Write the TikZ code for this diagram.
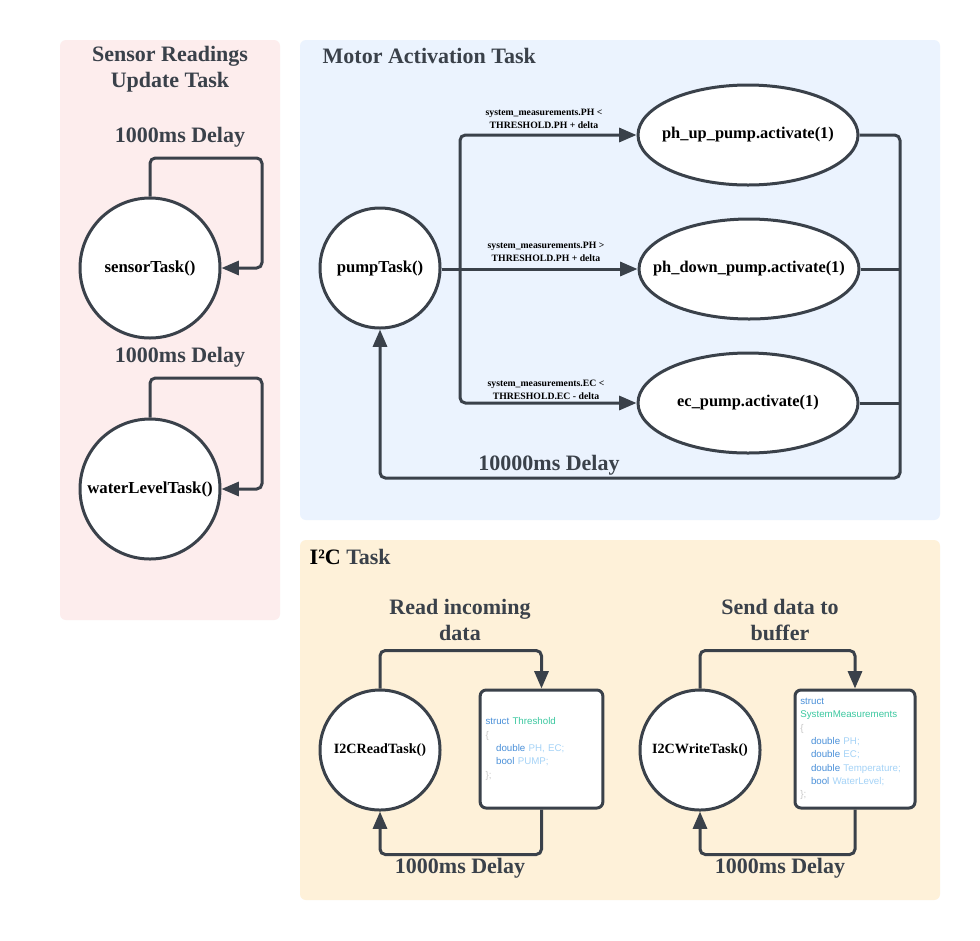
\documentclass[tikz,border=0pt]{standalone}
\usepackage{fontspec}
\setmainfont{Liberation Serif}
\newfontfamily\codefont{Liberation Sans}
\usetikzlibrary{shapes.geometric,arrows.meta}
\definecolor{lc}{HTML}{3A414A}
\definecolor{pinkbg}{HTML}{FDEDED}
\definecolor{bluebg}{HTML}{EBF3FE}
\definecolor{yellowbg}{HTML}{FEF1D9}
\definecolor{kw}{HTML}{4A90D9}
\definecolor{ty}{HTML}{3CC8A0}
\definecolor{brc}{HTML}{C8C8C8}
\definecolor{idc}{HTML}{A5D3F7}
\begin{document}
\begin{tikzpicture}[x=0.75pt,y=-0.75pt,
  panel/.style={rounded corners=4.5pt},
  task/.style={circle, draw=lc, line width=2.25pt, fill=white, inner sep=0pt, font=\bfseries\fontsize{12.6}{14}\selectfont},
  act/.style={ellipse, draw=lc, line width=2.25pt, fill=white, minimum width=165pt, minimum height=75pt, inner sep=0pt},
  acttext/.style={font=\bfseries\fontsize{12.3}{14}\selectfont},
  codebox/.style={rectangle, rounded corners=4.5pt, draw=lc, line width=2.25pt, fill=white, minimum height=88.5pt, inner xsep=4pt, align=left, font=\codefont\fontsize{7.3}{10}\selectfont},
  conn/.style={draw=lc, line width=2.25pt, rounded corners=4pt},
  arr/.style={conn, -{Triangle[length=13pt,width=10.5pt]}},
  heading/.style={text=lc, font=\bfseries\fontsize{16.5}{19.5}\selectfont, align=center},
  cond/.style={font=\bfseries\fontsize{7.3}{9.8}\selectfont, align=center}
]
\useasboundingbox (0,0) rectangle (980,940);
\fill[white] (0,0) rectangle (980,940);

% panels
\fill[pinkbg, panel] (60,40) rectangle (280,620);
\fill[bluebg, panel] (300,40) rectangle (940,520);
\fill[yellowbg, panel] (300,540) rectangle (940,900);

% ---- Sensor panel
\node[heading] (stitle) at (170,69) {Sensor Readings\\Update Task};
\node[heading] (sdelay1) at (180,137) {1000ms Delay};
\node[heading] (sdelay2) at (180,357) {1000ms Delay};
\node[task, minimum size=105pt] (sensor) at (150,268) {sensorTask()};
\node[task, minimum size=105pt] (water) at (150,489) {waterLevelTask()};
\draw[arr] (sensor.north) |- (262,158) |- (sensor.east);
\draw[arr] (water.north) |- (262,378) |- (water.east);

% ---- Motor panel
\node[heading, anchor=west] (mtitle) at (318,56) {Motor Activation Task};
\node[task, minimum size=90pt, font=\bfseries\fontsize{12.5}{14}\selectfont] (pump) at (380,268) {pumpTask()};
\node[act] (phup) at (748,135) {};
\node[act] (phdown) at (749,269) {};
\node[act] (ec) at (748,403) {};
\node[acttext] (phupt) at (phup.center) {ph\_up\_pump.activate(1)};
\node[acttext] (phdownt) at (phdown.center) {ph\_down\_pump.activate(1)};
\node[acttext] (ect) at (ec.center) {ec\_pump.activate(1)};
\coordinate (split) at (460,269);
\coordinate (ret) at (900,478);
\draw[conn] (pump.east |- split) -- (split);
\draw[arr] (split) -- (phdown.west);
\draw[arr] (split) |- (phup.west);
\draw[arr] (split) |- (ec.west);
\node[cond] (c1) at (544,118.5) {system\_measurements.PH <\\THRESHOLD.PH + delta};
\node[cond] (c2) at (546,251.5) {system\_measurements.PH >\\THRESHOLD.PH + delta};
\node[cond] (c3) at (546,389.5) {system\_measurements.EC <\\THRESHOLD.EC - delta};
\draw[arr] (phup.east) -| (ret) -| (pump.south);
\draw[conn] (phdown.east) -- (phdown.east -| ret);
\draw[conn] (ec.east) -- (ec.east -| ret);
\node[heading] (mdelay) at (549,465) {10000ms Delay};

% ---- I2C panel
\node[anchor=west, font=\bfseries\fontsize{16.5}{19.5}\selectfont] (ititle) at (305,557) {I²C \textcolor{lc}{Task}};
\node[heading] (rlabel) at (460,620) {Read incoming\\data};
\node[heading] (wlabel) at (780,620) {Send data to\\buffer};
\node[task, minimum size=90pt, font=\bfseries\fontsize{10.6}{13}\selectfont] (rtask) at (380,750) {I2CReadTask()};
\node[task, minimum size=90pt, font=\bfseries\fontsize{10.6}{13}\selectfont] (wtask) at (700,750) {I2CWriteTask()};
\node[codebox, text width=84pt] (rbox) at (541.5,749) {%
\textcolor{kw}{struct} \textcolor{ty}{Threshold}\\
\textcolor{brc}{\{}\\
\hspace*{8pt}\textcolor{kw}{double} \textcolor{idc}{PH, EC;}\\
\hspace*{8pt}\textcolor{kw}{bool} \textcolor{idc}{PUMP;}\\
\textcolor{brc}{\};}};
\node[codebox, text width=82pt] (wbox) at (855,749) {%
\textcolor{kw}{struct}\\
\textcolor{ty}{SystemMeasurements}\\
\textcolor{brc}{\{}\\
\hspace*{8pt}\textcolor{kw}{double} \textcolor{idc}{PH;}\\
\hspace*{8pt}\textcolor{kw}{double} \textcolor{idc}{EC;}\\
\hspace*{8pt}\textcolor{kw}{double} \textcolor{idc}{Temperature;}\\
\hspace*{8pt}\textcolor{kw}{bool} \textcolor{idc}{WaterLevel;}\\
\textcolor{brc}{\};}};
\draw[arr] (rtask.north) -- ++(0,-38) -| (rbox.north);
\draw[arr] (rbox.south) -- ++(0,45) -| (rtask.south);
\draw[arr] (wtask.north) -- ++(0,-38) -| (wbox.north);
\draw[arr] (wbox.south) -- ++(0,45) -| (wtask.south);
\node[heading] (rdelay) at (460,868) {1000ms Delay};
\node[heading] (wdelay) at (780,868) {1000ms Delay};
\end{tikzpicture}
\end{document}
